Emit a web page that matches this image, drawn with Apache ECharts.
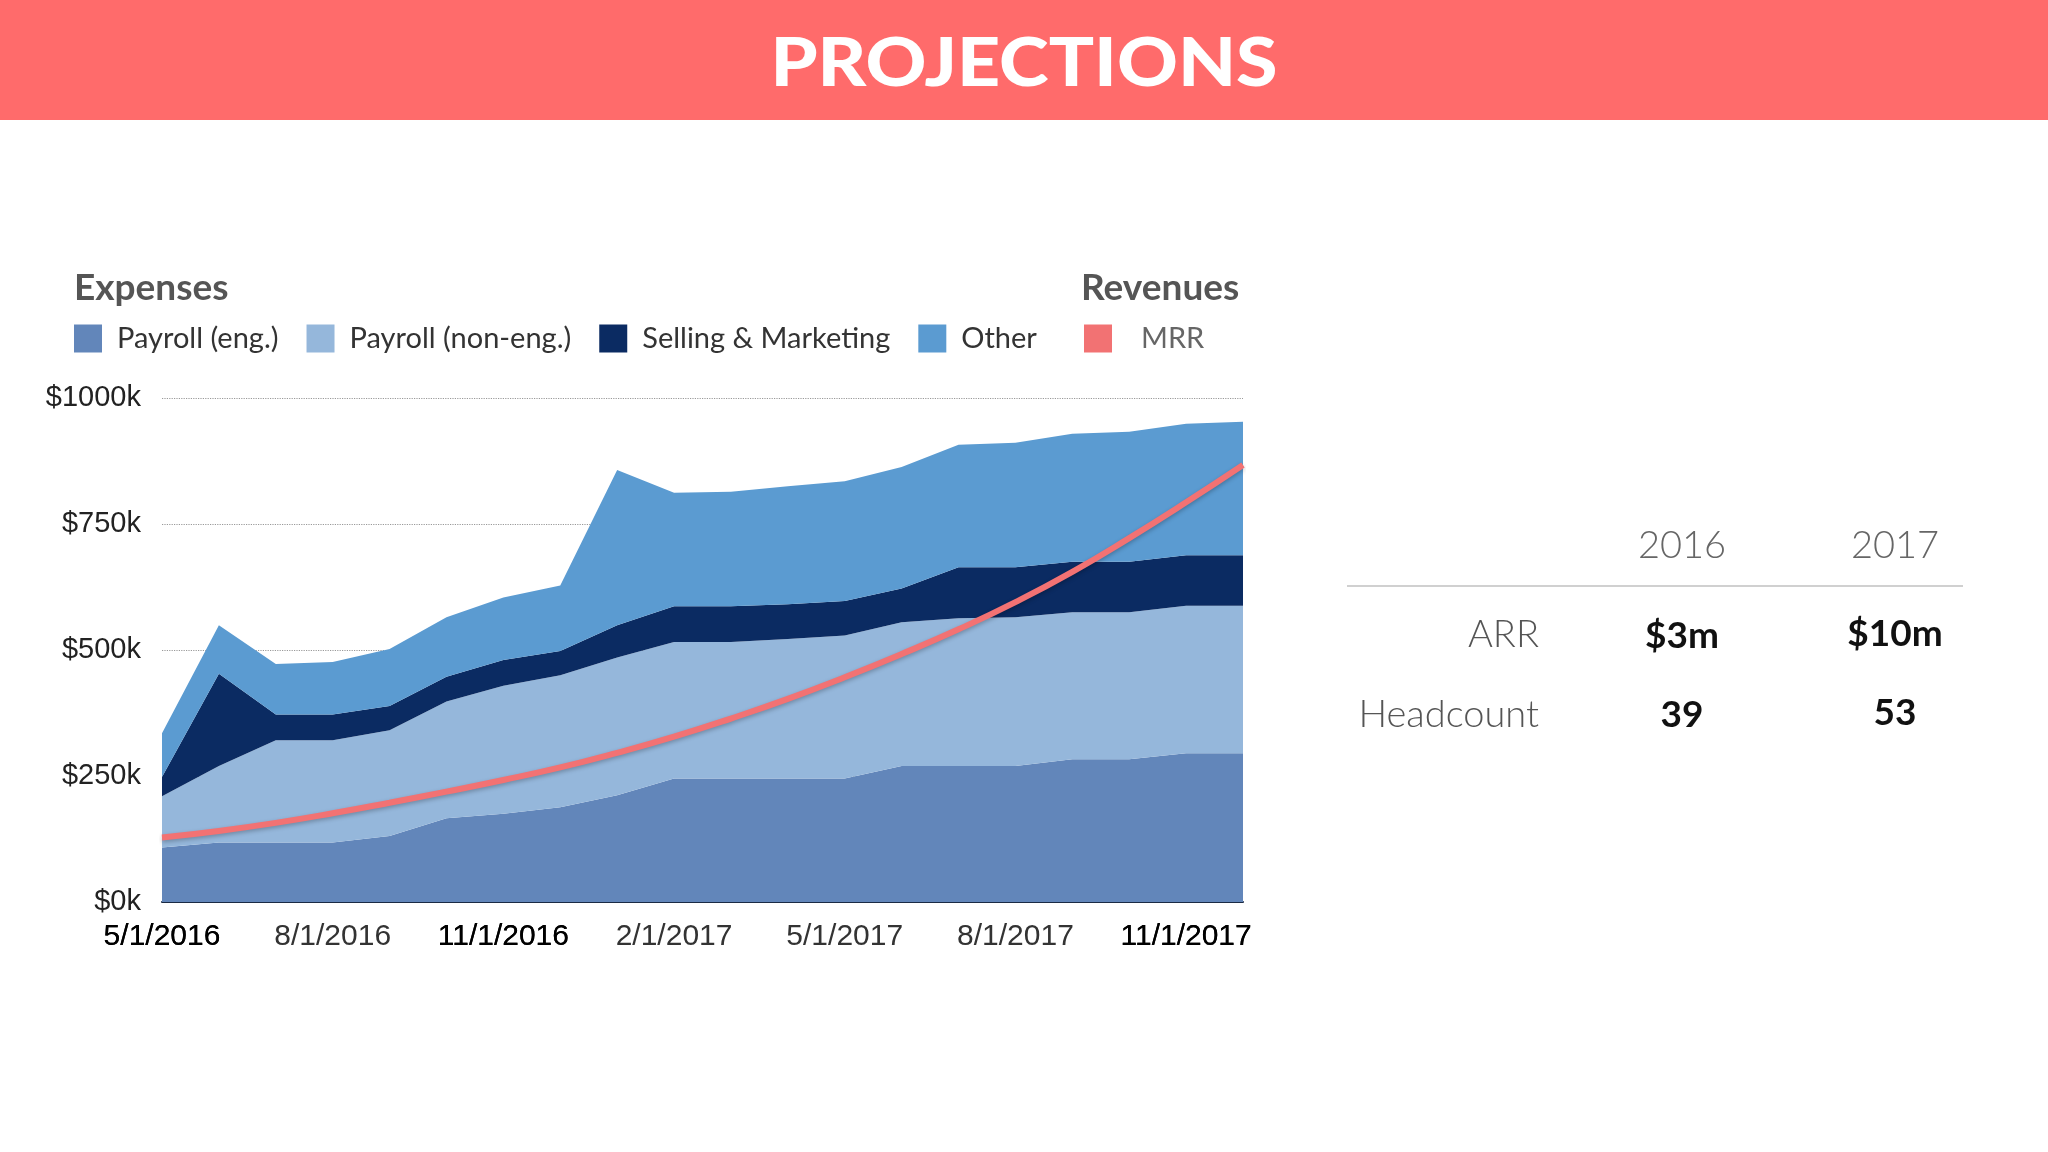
<!DOCTYPE html>
<html>
<head>
<meta charset="utf-8">
<script src="https://cdn.jsdelivr.net/npm/echarts@6/dist/echarts.min.js"></script>
<style>
html,body{margin:0;padding:0;background:#fff;}
#chart{width:2048px;height:1152px;}
</style>
</head>
<body>
<div id="chart"></div>
<script>
var months = ['5/1/2016','6/1/2016','7/1/2016','8/1/2016','9/1/2016','10/1/2016','11/1/2016','12/1/2016',
  '1/1/2017','2/1/2017','3/1/2017','4/1/2017','5/1/2017','6/1/2017','7/1/2017','8/1/2017',
  '9/1/2017','10/1/2017','11/1/2017','12/1/2017'];
// values in $k, per layer (not cumulative)
var payrollEng    = [108,118,118,118,131,166,175,188,212,245,245,245,245,270,270,270,283,283,295,295];
var payrollNonEng = [102,152,203,203,210,232,254,262,273,271,271,277,284,285,293,295,292,292,293,293];
var sellingMkt    = [ 38,183, 51, 51, 48, 49, 51, 48, 64, 71, 71, 69, 68, 67,101, 99,100,100,100,100];
var other         = [ 87, 96,100,104,113,118,124,130,308,225,227,234,238,241,243,247,254,258,261,265];
var mrr           = [128,141,157,176,197,219,242,267,296,328,364,403,446,492,541,595,655,722,793,867];
var yTicks = ['$0k','$250k','$500k','$750k','$1000k'];
var table = {
  years: ['2016','2017'],
  rows: ['ARR','Headcount'],
  arr: ['$3m','$10m'],
  headcount: ['39','53']
};

var colors = {eng:'#6286BA', nonEng:'#95B7DB', sm:'#0B2B62', other:'#5B9BD1', mrr:'#F27273'};
var chart = echarts.init(document.getElementById('chart'));

function area(name, data, color){
  return {name:name, type:'line', stack:'exp', data:data, symbol:'none', showSymbol:false,
    lineStyle:{width:0}, areaStyle:{color:color, opacity:1}, itemStyle:{color:color},
    emphasis:{disabled:true}, z:2};
}
var darkIdx = {0:1, 6:1, 18:1};

var graphics = [
  {type:'rect', shape:{x:0,y:0,width:2048,height:120}, style:{fill:'#FF6B6B'}, z:0},
  {type:'text', x:1024, y:65, scaleX:1.14, scaleY:1, style:{text:'PROJECTIONS', fill:'#fff', font:'900 66px Lato',
    textAlign:'center', textVerticalAlign:'middle'}},
  {type:'text', x:1682, y:546, style:{text:table.years[0], fill:'#666', font:'300 38px Lato', textAlign:'center', textVerticalAlign:'middle'}},
  {type:'text', x:1895, y:546, style:{text:table.years[1], fill:'#666', font:'300 38px Lato', textAlign:'center', textVerticalAlign:'middle'}},
  {type:'line', shape:{x1:1347,y1:586,x2:1963,y2:586}, style:{stroke:'#d0d0d0', lineWidth:2}},
  {type:'text', x:1539, y:635, style:{text:table.rows[0], fill:'#555', font:'300 38px Lato', textAlign:'right', textVerticalAlign:'middle'}},
  {type:'text', x:1539, y:715, style:{text:table.rows[1], fill:'#555', font:'300 38px Lato', textAlign:'right', textVerticalAlign:'middle'}},
  {type:'text', x:1682, y:636, style:{text:table.arr[0], fill:'#111', font:'bold 37px Lato', textAlign:'center', textVerticalAlign:'middle'}},
  {type:'text', x:1895, y:634, style:{text:table.arr[1], fill:'#111', font:'bold 37px Lato', textAlign:'center', textVerticalAlign:'middle'}},
  {type:'text', x:1682, y:715, style:{text:table.headcount[0], fill:'#111', font:'bold 37px Lato', textAlign:'center', textVerticalAlign:'middle'}},
  {type:'text', x:1895, y:713, style:{text:table.headcount[1], fill:'#111', font:'bold 37px Lato', textAlign:'center', textVerticalAlign:'middle'}}
];

var option = {
  animation:false,
  backgroundColor:'#fff',
  title:[
    {text:'Expenses', left:74, top:270, textStyle:{fontFamily:'Lato', fontWeight:'bold', fontSize:37, color:'#555'}, padding:0},
    {text:'Revenues', left:1081, top:270, textStyle:{fontFamily:'Lato', fontWeight:'bold', fontSize:37, color:'#555'}, padding:0}
  ],
  legend:[
    {data:['Payroll (eng.)','Payroll (non-eng.)','Selling & Marketing','Other'], left:74, top:324,
     icon:'rect', itemWidth:28, itemHeight:28, itemGap:28, padding:0,
     textStyle:{fontFamily:'Lato', fontSize:29, color:'#333', padding:[0,0,0,10]}},
    {data:[{name:'MRR', icon:'rect'}], left:1084, top:324, itemWidth:28, itemHeight:28, padding:0,
     textStyle:{fontFamily:'Lato', fontSize:29, color:'#666', padding:[0,0,0,24]}}
  ],
  grid:{left:162, right:805, top:398, bottom:250, containLabel:false},
  xAxis:{type:'category', data:months, boundaryGap:false,
    axisLine:{lineStyle:{color:'#1a2a44', width:2}}, axisTick:{show:false},
    axisLabel:{interval:2, margin:20, fontFamily:'Liberation Sans', fontSize:30, color:'#333',
      formatter:function(v,i){ return darkIdx[i] ? '{b|'+v+'}' : v; },
      rich:{b:{fontFamily:'Liberation Sans', fontSize:30, color:'#000', fontWeight:500,
        textShadowColor:'#000', textShadowBlur:0.6}}},
    splitLine:{show:false}},
  yAxis:{type:'value', min:0, max:1000, interval:250,
    axisLine:{show:false}, axisTick:{show:false},
    axisLabel:{margin:21, fontFamily:'Liberation Sans', fontSize:29, color:'#222',
      formatter:function(v){ return yTicks[Math.round(v/250)]; }},
    splitLine:{lineStyle:{color:'#999', type:'dotted', width:1.2}}},
  series:[
    area('Payroll (eng.)', payrollEng, colors.eng),
    area('Payroll (non-eng.)', payrollNonEng, colors.nonEng),
    area('Selling & Marketing', sellingMkt, colors.sm),
    area('Other', other, colors.other),
    {name:'MRR', type:'line', data:mrr, smooth:0.5, symbol:'none', showSymbol:false, z:5,
     itemStyle:{color:colors.mrr},
     lineStyle:{color:colors.mrr, width:6, shadowColor:'rgba(0,0,0,0.25)', shadowBlur:4, shadowOffsetY:2}}
  ],
  graphic:graphics
};
chart.setOption(option);
</script>
</body>
</html>
